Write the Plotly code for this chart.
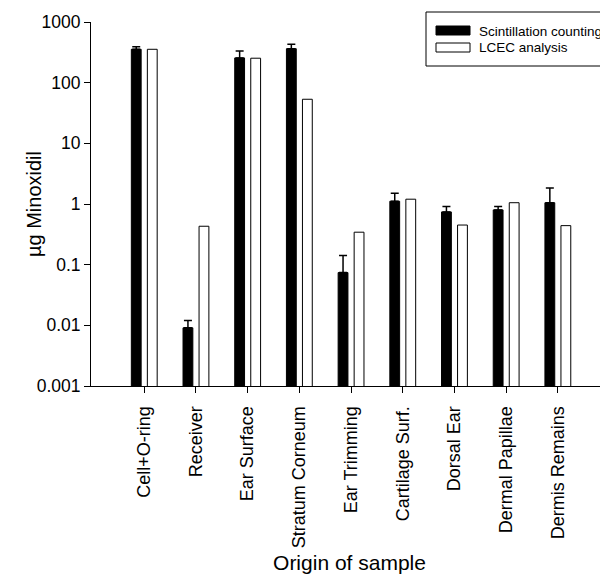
import plotly.graph_objects as go

categories = ["Cell+O-ring", "Receiver", "Ear Surface", "Stratum Corneum", "Ear Trimming",
              "Cartilage Surf.", "Dorsal Ear", "Dermal Papillae", "Dermis Remains"]
scint = [355, 0.0091, 256, 363, 0.074, 1.11, 0.74, 0.80, 1.05]
scint_err_top = [390, 0.012, 333, 430, 0.141, 1.51, 0.91, 0.91, 1.84]
lcec = [355, 0.43, 253, 53.3, 0.343, 1.2, 0.45, 1.05, 0.44]
ytick_vals = [0.001, 0.01, 0.1, 1, 10, 100, 1000]
ytick_text = ["0.001", "0.01", "0.1", "1", "10", "100", "1000"]
series_names = ["Scintillation counting", "LCEC analysis"]

xpos = list(range(len(categories)))
err_plus = [t - v for t, v in zip(scint_err_top, scint)]

font = "Arial, Liberation Sans, sans-serif"

fig = go.Figure()
fig.add_trace(go.Bar(
    x=xpos, y=scint, name=series_names[0],
    width=0.19, offset=-0.25,
    marker=dict(color="black", line=dict(color="black", width=1)),
    error_y=dict(type="data", symmetric=False, array=err_plus,
                 arrayminus=[0] * len(scint), color="black", thickness=1.5, width=4),
))
fig.add_trace(go.Bar(
    x=xpos, y=lcec, name=series_names[1],
    width=0.19, offset=0.06,
    marker=dict(color="white", line=dict(color="black", width=1)),
))

# page is rendered with an 8px body margin; plot area spans page x 91..608, y 22..386
W, H, L, T = 517.0, 364.0, 91.0, 22.0
def px(xp):
    return (xp - L) / W
def py(yp):
    return (T + H - yp) / H

shapes = [
    dict(type="rect", xref="paper", yref="paper", x0=px(426), x1=px(640), y0=py(66), y1=py(12),
         line=dict(color="black", width=1), fillcolor="white", layer="above"),
    dict(type="rect", xref="paper", yref="paper", x0=px(436), x1=px(470), y0=py(35), y1=py(26),
         line=dict(color="black", width=1), fillcolor="black", layer="above"),
    dict(type="rect", xref="paper", yref="paper", x0=px(436), x1=px(470), y0=py(52), y1=py(43),
         line=dict(color="black", width=1), fillcolor="white", layer="above"),
]
annotations = [
    dict(text=series_names[0], xref="paper", yref="paper", x=px(477), y=py(31),
         xanchor="left", yanchor="middle", showarrow=False, font=dict(size=13.5)),
    dict(text=series_names[1], xref="paper", yref="paper", x=px(477), y=py(48),
         xanchor="left", yanchor="middle", showarrow=False, font=dict(size=13.5)),
    dict(text="µg Minoxidil", xref="paper", yref="paper", x=px(34), y=0.5,
         xanchor="center", yanchor="middle", textangle=-90, showarrow=False,
         font=dict(size=20)),
]

fig.update_layout(
    width=600, height=567,
    margin=dict(l=83, r=0, t=14, b=189, autoexpand=False),
    plot_bgcolor="white", paper_bgcolor="white",
    font=dict(family=font, size=14, color="black"),
    showlegend=False,
    shapes=shapes,
    annotations=annotations,
    xaxis=dict(
        range=[-1.03, 8.97], tickmode="array", tickvals=xpos, ticktext=categories,
        tickangle=-90, ticks="outside", ticklen=6, tickcolor="black",
        ticklabelstandoff=6,
        showline=True, linecolor="black", linewidth=1, showgrid=False, zeroline=False,
        title=dict(text="Origin of sample", font=dict(size=21), standoff=8),
        tickfont=dict(size=18), automargin=False,
    ),
    yaxis=dict(
        type="log", range=[-3, 3], tickmode="array", tickvals=ytick_vals, ticktext=ytick_text,
        ticks="outside", ticklen=6, tickcolor="black",
        showline=True, linecolor="black", linewidth=1, showgrid=False, zeroline=False,
        tickfont=dict(size=17.5), automargin=False,
    ),
)

fig.write_html("out.html")
